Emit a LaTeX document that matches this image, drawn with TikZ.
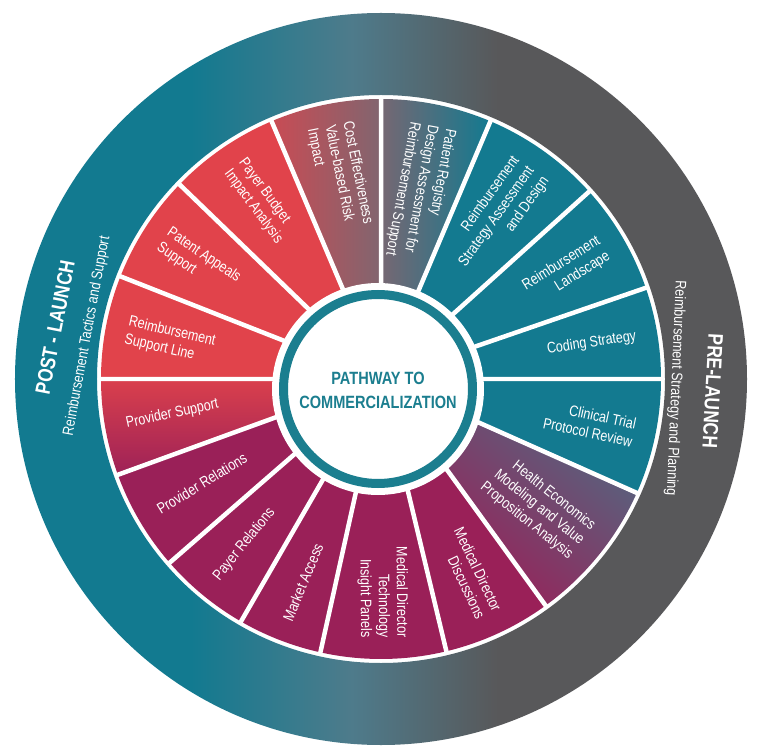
\documentclass[tikz,border=0pt]{standalone}
\usepackage{fontspec}
\setmainfont{Liberation Sans}[FakeStretch=0.82]
\usepackage{tikz}
\definecolor{segteal}{HTML}{137A90}
\definecolor{segred}{HTML}{E1434B}
\definecolor{segplum}{HTML}{9A2058}
\definecolor{segmauve}{HTML}{81656F}
\definecolor{segslate}{HTML}{56647F}
\definecolor{ringteal}{HTML}{127A90}
\definecolor{ringmid}{HTML}{4E7B8B}
\definecolor{ringgray}{HTML}{58585A}
\definecolor{coreteal}{HTML}{1B7E8F}
\pgfdeclarehorizontalshading{ringshade}{100bp}{color(0bp)=(ringteal); color(37bp)=(ringteal); color(48bp)=(ringmid); color(58bp)=(ringgray); color(100bp)=(ringgray)}
\newcommand{\wedgepath}[2]{(#1:1.8) -- (#1:5.6) arc[start angle=#1, end angle=#2, radius=5.6] -- (#2:1.8) arc[start angle=#2, end angle=#1, radius=1.8] -- cycle}
\newcommand{\segfont}{\fontsize{8.7}{10.3}\selectfont}
\tikzset{
  seglabel/.style={text=white, font=\segfont, inner sep=0pt},
  outlabel/.style={seglabel, anchor=east, align=right},
  inlabel/.style={seglabel, anchor=west, align=left},
  divider/.style={white, line width=0.09cm},
  ringtitle/.style={text=white, font=\bfseries\fontsize{12}{14}\selectfont, inner sep=0pt},
  ringsub/.style={text=white, font=\segfont, inner sep=0pt}
}
\begin{document}
\begin{tikzpicture}[line cap=round,line join=round,x=1cm,y=1cm]
\useasboundingbox (-7.62,-7.52) rectangle (7.54,7.58);
% outer ring
\shade[shading=ringshade, even odd rule] (0,0) circle (7.32) (0,0) circle (5.68);
% segments
\fill[segteal] \wedgepath{0}{19};
\fill[segteal] \wedgepath{19}{42};
\fill[segteal] \wedgepath{42}{67};
\shade[left color=segmauve!90!segteal, middle color=segteal!85!segmauve, right color=segteal] \wedgepath{67}{90};
\shade[left color=segred!75!segmauve, right color=segmauve] \wedgepath{90}{113};
\fill[segred] \wedgepath{113}{136};
\fill[segred] \wedgepath{136}{158.5};
\fill[segred] \wedgepath{158.5}{180};
\shade[top color=segred!90!segplum, bottom color=segplum!95!segred] \wedgepath{180}{200};
\fill[segplum] \wedgepath{200}{221};
\fill[segplum] \wedgepath{221}{240};
\fill[segplum] \wedgepath{240}{257.5};
\fill[segplum] \wedgepath{257.5}{283.5};
\fill[segplum] \wedgepath{283.5}{306};
\shade[top color=segslate, bottom color=segplum, shading angle=-40] \wedgepath{306}{336};
\fill[segteal] \wedgepath{336}{360};
\draw[divider, line cap=butt] (0:1.8) -- (0:5.62) (19:1.8) -- (19:5.62) (42:1.8) -- (42:5.62)
  (67:1.8) -- (67:5.62) (90:1.8) -- (90:5.62) (113:1.8) -- (113:5.62) (136:1.8) -- (136:5.62)
  (158.5:1.8) -- (158.5:5.62) (180:1.8) -- (180:5.62) (200:1.8) -- (200:5.62) (221:1.8) -- (221:5.62)
  (240:1.8) -- (240:5.62) (257.5:1.8) -- (257.5:5.62) (283.5:1.8) -- (283.5:5.62) (306:1.8) -- (306:5.62)
  (336:1.8) -- (336:5.62);
% centre
\fill[white] (-0.06,-0.2) circle (2.12);
\draw[coreteal, line width=0.18cm] (-0.06,-0.2) circle (1.89);
\node[text=coreteal, font=\bfseries\fontsize{10.1}{13.7}\selectfont, align=center, inner sep=0pt] (core) at (-0.06,-0.22) {PATHWAY TO\\COMMERCIALIZATION};
% segment labels
\node[outlabel, rotate=8.5] (coding) at (9.5:5.18) {Coding Strategy};
\node[outlabel, rotate=32] (landscape) at (30.5:5.18) {Reimbursement\\Landscape};
\node[outlabel, rotate=54.5] (strategy) at (54.5:5.18) {Reimbursement\\Strategy Assessment\\and Design};
\node[inlabel, rotate=-100.5] (registry) at (78.5:5.18) {Patient Registry\\Design Assessment for\\Reimbursement Support};
\node[inlabel, rotate=-78.5] (costeff) at (101.5:5.18) {Cost Effectiveness\\Value-based Risk\\Impact};
\node[inlabel, rotate=-53.5] (budget) at (124.5:5.18) {Payer Budget\\Impact Analysis};
\node[inlabel, rotate=-34] (appeals) at (147.25:5.18) {Patent Appeals\\Support};
\node[inlabel, rotate=-13] (supportline) at (169.25:5.18) {Reimbursement\\Support Line};
\node[inlabel, rotate=12] (provsupport) at (190:5.18) {Provider Support};
\node[inlabel, rotate=31.5] (provrel) at (210.5:5.18) {Provider Relations};
\node[inlabel, rotate=51] (payerrel) at (230.5:5.18) {Payer Relations};
\node[inlabel, rotate=67.5] (access) at (248.75:5.18) {Market Access};
\node[outlabel, rotate=-89.5] (panels) at (270.5:5.18) {Medical Director\\Technology\\Insight Panels};
\node[outlabel, rotate=-64.5] (discuss) at (294.75:5.18) {Medical Director\\Discussions};
\node[outlabel, rotate=-38.5] (healthecon) at (321:5.18) {Health Economics\\Modeling and Value\\Proposition Analysis};
\node[outlabel, rotate=-12] (trial) at (348:5.18) {Clinical Trial\\Protocol Review};
% ring labels
\node[ringtitle, rotate=79] (postlaunch) at (171:6.6) {POST - LAUNCH};
\node[ringsub, rotate=79.5] (posttext) at (171.7:5.94) {Reimbursement Tactics and Support};
\node[ringtitle, rotate=-93] (prelaunch) at (-2.1:6.64) {PRE-LAUNCH};
\node[ringsub, rotate=-92.4] (pretext) at (-1.85:5.89) {Reimbursement Strategy and Planning};
\end{tikzpicture}
\end{document}
